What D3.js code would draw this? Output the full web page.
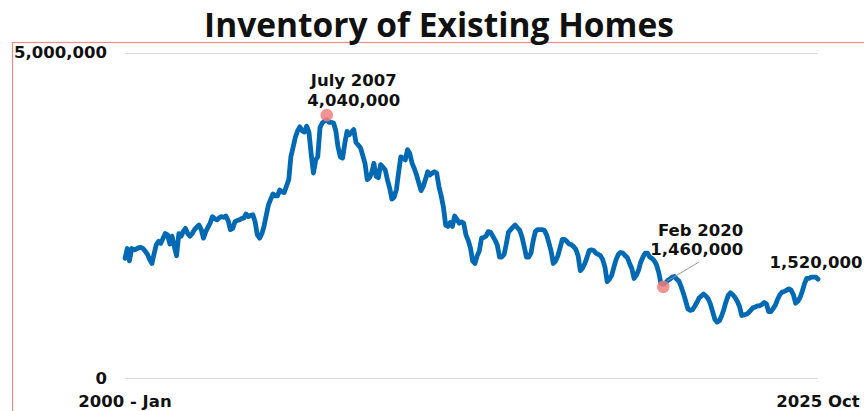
<!DOCTYPE html>
<html>
<head>
<meta charset="utf-8">
<script src="https://cdn.jsdelivr.net/npm/d3@7"></script>
<style>
  html, body { margin: 0; padding: 0; background: #fff; }
  svg { display: block; }
  text { font-family: "DejaVu Sans", "Open Sans", sans-serif; font-weight: 700; fill: #111; }
  text.title { font-family: "Open Sans", "DejaVu Sans", sans-serif; }
</style>
</head>
<body>
<svg id="chart" width="864" height="411"></svg>
<script>
// ---------------- DATA ----------------
const title = "Inventory of Existing Homes";
const startMonth = "2000-01";
// Monthly inventory of existing homes, millions (Jan 2000 .. Oct 2025)
const inv2000 = [1.84, 1.99, 1.80, 1.99, 1.97, 1.98, 2.00, 2.01, 1.99, 1.95, 1.90, 1.82];
const inv2001 = [1.76, 1.92, 2.05, 2.10, 2.07, 2.15, 2.22, 2.20, 2.06, 2.18, 2.02, 1.88];
const inv2002 = [2.22, 2.18, 2.25, 2.30, 2.22, 2.18, 2.22, 2.28, 2.32, 2.35, 2.28, 2.15];
const inv2003 = [2.25, 2.32, 2.38, 2.48, 2.45, 2.43, 2.46, 2.48, 2.47, 2.49, 2.42, 2.28];
const inv2004 = [2.30, 2.40, 2.42, 2.43, 2.45, 2.46, 2.52, 2.48, 2.50, 2.51, 2.40, 2.20];
const inv2005 = [2.15, 2.22, 2.33, 2.50, 2.66, 2.75, 2.83, 2.80, 2.80, 2.89, 2.86, 2.85];
const inv2006 = [2.95, 3.05, 3.40, 3.55, 3.70, 3.80, 3.86, 3.80, 3.78, 3.87, 3.78, 3.45];
const inv2007 = [3.15, 3.35, 3.40, 3.85, 3.92, 3.95, 3.97, 3.93, 3.93, 3.92, 3.80, 3.55];
const inv2008 = [3.40, 3.38, 3.60, 3.79, 3.74, 3.78, 3.82, 3.62, 3.58, 3.54, 3.42, 3.30];
const inv2009 = [3.05, 3.08, 3.15, 3.30, 3.10, 3.08, 3.28, 3.24, 3.20, 3.05, 2.92, 2.75];
const inv2010 = [2.78, 2.90, 3.15, 3.40, 3.38, 3.35, 3.51, 3.45, 3.30, 3.22, 3.12, 3.00];
const inv2011 = [2.88, 2.95, 3.05, 3.17, 3.12, 3.15, 3.17, 3.15, 2.94, 2.80, 2.62, 2.35];
const inv2012 = [2.33, 2.39, 2.33, 2.49, 2.44, 2.38, 2.40, 2.38, 2.20, 2.12, 2.00, 1.80];
const inv2013 = [1.76, 1.88, 1.95, 2.15, 2.16, 2.18, 2.25, 2.24, 2.18, 2.12, 2.04, 1.86];
const inv2014 = [1.86, 1.90, 2.05, 2.24, 2.28, 2.32, 2.35, 2.31, 2.27, 2.17, 2.02, 1.86];
const inv2015 = [1.86, 1.92, 2.10, 2.25, 2.28, 2.28, 2.28, 2.27, 2.20, 2.08, 1.95, 1.76];
const inv2016 = [1.80, 1.88, 2.00, 2.13, 2.13, 2.10, 2.06, 2.05, 2.02, 1.98, 1.88, 1.65];
const inv2017 = [1.69, 1.76, 1.85, 1.96, 1.97, 1.96, 1.92, 1.90, 1.88, 1.82, 1.70, 1.48];
const inv2018 = [1.52, 1.58, 1.70, 1.82, 1.90, 1.93, 1.92, 1.88, 1.85, 1.76, 1.68, 1.53];
const inv2019 = [1.58, 1.66, 1.78, 1.86, 1.92, 1.92, 1.86, 1.84, 1.80, 1.74, 1.62, 1.45];
const inv2020 = [1.44, 1.46, 1.50, 1.52, 1.55, 1.56, 1.52, 1.49, 1.40, 1.30, 1.18, 1.06];
const inv2021 = [1.04, 1.05, 1.10, 1.16, 1.23, 1.26, 1.29, 1.26, 1.22, 1.14, 1.02, 0.90];
const inv2022 = [0.86, 0.88, 0.95, 1.05, 1.17, 1.27, 1.31, 1.28, 1.24, 1.18, 1.10, 0.96];
const inv2023 = [0.97, 0.98, 1.00, 1.04, 1.08, 1.09, 1.11, 1.11, 1.13, 1.16, 1.14, 1.02];
const inv2024 = [1.02, 1.07, 1.12, 1.21, 1.28, 1.32, 1.33, 1.35, 1.37, 1.35, 1.28, 1.15];
const inv2025 = [1.18, 1.24, 1.33, 1.45, 1.53, 1.53, 1.55, 1.55, 1.55, 1.52];

const yTicks = [0, 5000000];
const xTickLabels = ["2000 - Jan", "2025 Oct"];

// annotated points: marker month, marker value (millions), label lines
const peakMarker = { month: "2007-07", value: 4.04, lines: ["July 2007", "4,040,000"] };
const febMarker  = { month: "2020-01", value: 1.40, lines: ["Feb 2020", "1,460,000"] };
const endLabel   = "1,520,000";

// ---------------- BUILD ----------------
const inventory = [].concat(inv2000, inv2001, inv2002, inv2003, inv2004, inv2005, inv2006,
  inv2007, inv2008, inv2009, inv2010, inv2011, inv2012, inv2013, inv2014, inv2015, inv2016,
  inv2017, inv2018, inv2019, inv2020, inv2021, inv2022, inv2023, inv2024, inv2025);

const parseMonth = d3.timeParse("%Y-%m");
const t0 = parseMonth(startMonth);
const data = inventory.map((v, i) => ({ date: d3.timeMonth.offset(t0, i), value: v * 1e6 }));

const svg = d3.select("#chart");
const W = 864, H = 411;
const FS = "16.5px";

const x = d3.scaleTime()
  .domain([data[0].date, data[data.length - 1].date])
  .range([125, 818]);
const y = d3.scaleLinear().domain([0, 5000000]).range([378, 52.7]);

// plot frame (light red)
svg.append("rect")
  .attr("x", 12.5).attr("y", 42.5)
  .attr("width", W + 20).attr("height", H + 20)
  .attr("fill", "none").attr("stroke", "#f28b8b").attr("stroke-width", 1.2);

// title
svg.append("text")
  .attr("class", "title")
  .attr("x", 439).attr("y", 37)
  .attr("text-anchor", "middle")
  .style("font-size", "33.5px")
  .text(title);

// gridlines + y labels
const fmt = d3.format(",");
const yAxis = svg.append("g");
yAxis.selectAll("line").data(yTicks).join("line")
  .attr("x1", x.range()[0]).attr("x2", x.range()[1])
  .attr("y1", d => Math.round(y(d)) + 0.5).attr("y2", d => Math.round(y(d)) + 0.5)
  .attr("stroke", "#d9d9d9").attr("stroke-width", 1);
yAxis.selectAll("text").data(yTicks).join("text")
  .attr("x", 107).attr("y", d => y(d))
  .attr("text-anchor", "end")
  .attr("dominant-baseline", "central")
  .style("font-size", FS)
  .text(d => fmt(d));

// x labels
const xTicks = [data[0].date, data[data.length - 1].date];
svg.append("g").selectAll("text").data(xTicks).join("text")
  .attr("x", d => x(d)).attr("y", 407)
  .attr("text-anchor", "middle")
  .style("font-size", FS)
  .text((d, i) => xTickLabels[i]);

// line
const line = d3.line().x(d => x(d.date)).y(d => y(d.value)).curve(d3.curveLinear);
svg.append("path")
  .datum(data)
  .attr("d", line)
  .attr("fill", "none")
  .attr("stroke", "#0069b4")
  .attr("stroke-width", 4.8)
  .attr("stroke-linejoin", "round")
  .attr("stroke-linecap", "round");

// peak annotation
const pk = { x: x(parseMonth(peakMarker.month)), y: y(peakMarker.value * 1e6) };
svg.append("circle").attr("cx", pk.x).attr("cy", pk.y).attr("r", 6.3)
  .attr("fill", "#f08080").attr("fill-opacity", 0.85);
svg.append("g").selectAll("text").data(peakMarker.lines).join("text")
  .attr("x", pk.x + 27).attr("y", (d, i) => pk.y - 29 + i * 19.5)
  .attr("text-anchor", "middle")
  .style("font-size", FS)
  .text(d => d);

// Feb 2020 annotation
const fb = { x: x(parseMonth(febMarker.month)), y: y(febMarker.value * 1e6) };
svg.append("line")
  .attr("x1", fb.x + 4).attr("y1", fb.y - 6)
  .attr("x2", fb.x + 36).attr("y2", fb.y - 25)
  .attr("stroke", "#9a9a9a").attr("stroke-width", 1);
svg.append("circle").attr("cx", fb.x).attr("cy", fb.y).attr("r", 6.3)
  .attr("fill", "#f08080").attr("fill-opacity", 0.85);
svg.append("g").selectAll("text").data(febMarker.lines).join("text")
  .attr("x", fb.x + 80).attr("y", (d, i) => fb.y - 51 + i * 19.5)
  .attr("text-anchor", "end")
  .style("font-size", FS)
  .text(d => d);

// end label
const last = data[data.length - 1];
svg.append("text")
  .attr("x", x(last.date) - 2).attr("y", y(last.value) - 11)
  .attr("text-anchor", "middle")
  .style("font-size", FS)
  .text(endLabel);
</script>
</body>
</html>
